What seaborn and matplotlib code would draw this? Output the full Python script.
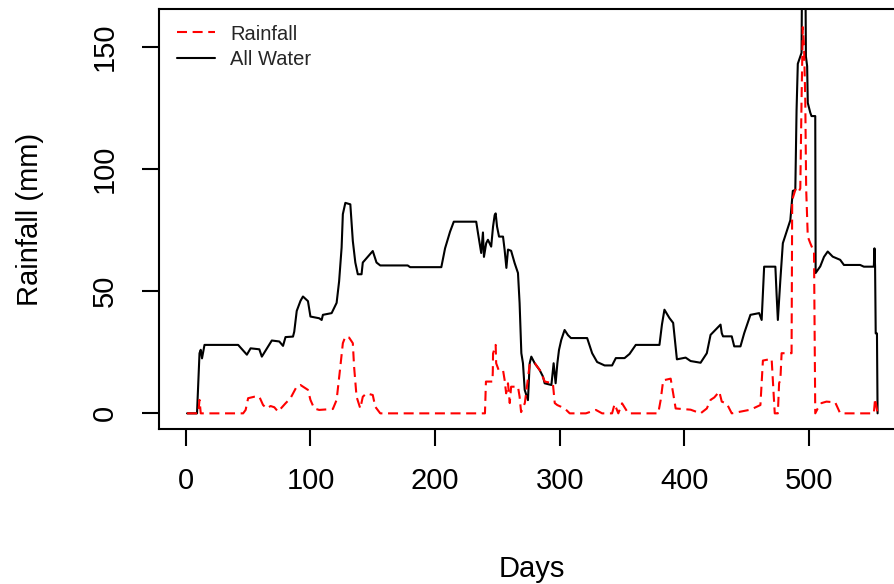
import matplotlib
matplotlib.use("Agg")
import matplotlib.pyplot as plt
import seaborn as sns
import pandas as pd

# Daily water totals (mm): breakpoints of each series, day -> value
water_days = [1, 9, 10, 11, 12, 13, 15, 42, 49, 52, 59, 61, 69, 75, 78, 80, 86, 87, 89, 92,
              94, 98, 100, 107, 109, 110, 117, 121, 123, 125, 126, 128, 132, 134, 136, 138,
              141, 142, 150, 153, 156, 178, 180, 205, 208, 212, 215, 233, 234.4, 237, 238.4,
              239.2, 241, 242.4, 245, 246.5, 247.8, 248.6, 249.7, 251.3, 254.5, 255.8, 257.2,
              258.5, 261, 263.8, 266.5, 267.8, 269.2, 270.5, 271.9, 274.5, 275.9, 277.2,
              279.9, 283.9, 286.6, 287.9, 293.3, 295.1, 296.7, 298.1, 299.4, 301.2, 303.9,
              306.6, 309, 322, 326, 330, 336, 342, 345, 352, 356, 361, 380, 382, 384, 388,
              391, 393, 394, 401, 405, 413, 418, 421, 429, 430, 431, 438, 440, 445, 448, 453,
              460, 462, 464, 473, 474, 475, 477, 479, 483, 485, 487, 489, 490, 491, 493, 494,
              494.3, 497.2, 497.5, 498.5, 499, 501, 502, 505, 505.3, 509, 512, 515, 519, 525,
              528, 541, 544, 552, 552.5, 553, 553.5, 554.5, 555]
water_mm = [0, 0, 12, 24.6, 26, 22.5, 28, 28, 24, 26.6, 26.2, 23.2, 29.8, 29.4, 27.6, 31.2,
            31.4, 33.4, 41.9, 46, 47.8, 45.9, 39.6, 38.9, 38.2, 40.3, 41, 45.2, 54, 67.8, 81.5,
            86.1, 85.5, 70.5, 61.7, 56.9, 56.9, 61.7, 66.4, 61.7, 60.5, 60.5, 59.8, 59.8, 67.5,
            74.3, 78.4, 78.4, 73.8, 65.6, 74, 64, 69.6, 71, 68.2, 76.4, 81.1, 81.8, 76.4, 72.3,
            72.3, 66.8, 59.5, 67, 66.5, 61.5, 57.4, 45.1, 24.6, 20.5, 9.6, 5.4, 20.5, 23.2,
            20.5, 17.7, 15, 12.3, 11.6, 20.5, 12.3, 20.5, 25.9, 30, 34.1, 32, 30.8, 30.8, 24.6,
            21, 19.6, 19.6, 22.6, 22.6, 24.3, 28, 28, 36.3, 42.4, 39, 37, 26.8, 22.1, 22.8,
            21.4, 20.7, 24.6, 32.1, 36.3, 32.8, 31.5, 31.5, 27.4, 27.4, 32.8, 40.3, 41, 38.2,
            60, 60, 48.5, 38.2, 54.6, 69.6, 75.8, 79, 91, 91.4, 124, 143, 146, 147.5, 172, 172,
            146, 142, 127, 123, 121.6, 121.6, 57.4, 60.1, 64, 66.2, 64.1, 62.8, 60.7, 60.7, 60,
            60, 67.5, 60, 32.7, 32.7, 0]

rain_days = [1, 10, 11, 12, 46, 48, 50, 55, 59, 62, 65, 68, 71, 74, 80, 84, 89, 92, 98, 100,
             103, 107, 118, 121, 124, 126, 128, 131, 134, 135, 137, 140, 142, 145, 150, 152,
             156, 240, 240.8, 246, 246.3, 246.5, 248.6, 249, 251, 254.5, 255.8, 257, 258.5,
             259.9, 261, 266.5, 267.8, 269, 272, 276, 280, 284, 288, 294.5, 296, 298, 301,
             305, 308, 321, 325, 329, 334, 342, 344, 347, 350, 355, 379, 381, 383, 389, 391,
             393, 405, 413, 418, 421, 424, 428, 430, 434, 438, 453, 461, 463, 470, 472.5, 475,
             476, 477, 478, 486, 486.5, 489.5, 492, 493, 494, 495, 496, 497, 497.7, 499, 501,
             504, 505, 507, 510, 514, 521, 525, 552, 553, 554, 555]
rain_mm = [0, 0, 5.5, 0, 0, 1.4, 6.2, 6.8, 6.8, 3.4, 2, 3, 2.5, 0.7, 4.1, 6.2, 11, 11.6, 9.6,
           5.5, 2, 1.4, 1.8, 5.5, 19.2, 28.7, 31.4, 31, 28.7, 19.2, 6.8, 2, 6.8, 8.2, 7.5, 2.7,
           0, 0, 13, 13, 17, 24.5, 28, 20.5, 17.7, 17.7, 13.6, 8.2, 12.3, 4.2, 10.9, 10.9, 6.8,
           0.5, 4.2, 20.5, 20.5, 17.7, 13, 12.3, 4.2, 3.4, 2.7, 1.5, 0, 0, 0.7, 1.4, 0, 0, 3.8,
           0, 4.1, 0, 0, 5.5, 13.5, 14.2, 8.2, 2, 1.5, 0, 2, 5.5, 6.5, 8.9, 4.8, 4, 0, 1.5, 3.4,
           21.6, 22.3, 0, 0, 12.4, 13.5, 24.6, 24.6, 87.3, 92.2, 91, 92, 128, 158, 150, 128,
           92, 72.3, 69.6, 66, 0, 2, 4.2, 4.8, 4.5, 0, 0, 6, 3, 0]

x_ticks = [0, 100, 200, 300, 400, 500]
y_ticks = [0, 50, 100, 150]

sns.set_theme(style="white")
plt.rcParams["font.family"] = ["Liberation Sans", "DejaVu Sans"]

water = pd.DataFrame({"Days": water_days, "mm": water_mm})
rain = pd.DataFrame({"Days": rain_days, "mm": rain_mm})

fig = plt.figure(figsize=(8.94, 5.84), dpi=100)
ax = fig.add_axes([159 / 894, 155 / 584, 746 / 894, 420 / 584])

sns.lineplot(data=water, x="Days", y="mm", ax=ax, estimator=None, sort=False,
             color="black", linewidth=1.5, label="All Water")
sns.lineplot(data=rain, x="Days", y="mm", ax=ax, estimator=None, sort=False,
             color="#FF0000", linewidth=1.5, linestyle=(0, (4.8, 2.7)), label="Rainfall")

ax.set_xlim(-21.5, 577)
ax.set_ylim(-6.4, 165.4)
ax.set_xticks(x_ticks)
ax.set_yticks(y_ticks)
ax.set_xticklabels([str(v) for v in x_ticks])
ax.set_yticklabels([str(v) for v in y_ticks])

for side in ["left", "right", "top", "bottom"]:
    ax.spines[side].set_visible(True)
    ax.spines[side].set_color("black")
    ax.spines[side].set_linewidth(1.5)

ax.tick_params(axis="both", which="major", direction="out", length=12.2, width=1.5,
               color="black", labelsize=21, labelcolor="black", bottom=True, left=True)
ax.tick_params(axis="x", pad=15)
ax.tick_params(axis="y", pad=17, labelrotation=90)
for lab in ax.get_yticklabels():
    lab.set_va("center")

ax.set_xlabel("Days", fontsize=21, color="black")
ax.xaxis.label.set_va("baseline")
ax.xaxis.set_label_coords(0.5, (7 - 155) / 420)
ax.set_ylabel("Rainfall (mm)", fontsize=21, color="black")
ax.yaxis.label.set_va("center")
ax.yaxis.set_label_coords((30 - 159) / 746, 0.5)

handles, labels = ax.get_legend_handles_labels()
order = [labels.index("Rainfall"), labels.index("All Water")]
ax.legend([handles[i] for i in order], [labels[i] for i in order],
          loc="upper left", bbox_to_anchor=(18 / 746, 1 - 15.5 / 420), frameon=False,
          fontsize=14.5, borderpad=0, borderaxespad=0, handlelength=1.9,
          handletextpad=0.75, labelspacing=0.32)

fig.savefig("out.png", dpi=100)
